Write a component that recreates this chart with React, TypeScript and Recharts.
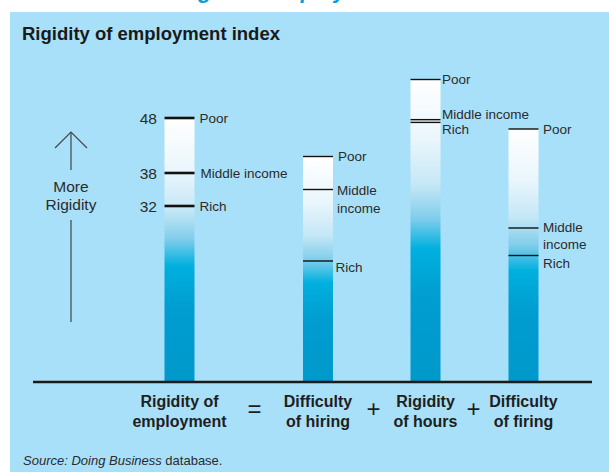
import React from 'react';
import { BarChart, Bar, XAxis, YAxis } from 'recharts';

// ---- data ----
const categories = ['Rigidity of employment', 'Difficulty of hiring', 'Rigidity of hours', 'Difficulty of firing'];
const categoryLines = [
  ['Rigidity of', 'employment'],
  ['Difficulty', 'of hiring'],
  ['Rigidity', 'of hours'],
  ['Difficulty', 'of firing'],
];
const poorValues = [48, 41, 55, 46];
const middleValues = [38, 35, 47.7, 28];
const richValues = [32, 22, 47.2, 23];
const groupNames = ['Poor', 'Middle income', 'Rich'];
const operators = ['', '=', '+', '+'];
const indexTicks = [48, 38, 32];

// ---- layout (not data) ----
const W = 609;
const H = 472;
const PLOT_LEFT = 33;
const PLOT_RIGHT_MARGIN = 17;
const barSlots = [146.5, 285, 392.5, 490.5];
const operatorDx = [0, -63.5, -52, -50];

const LABEL_FONT = "'Liberation Sans', Arial, sans-serif";
const SANS = "'Liberation Sans', Arial, sans-serif";
const TEXT = '#2b2b2b';

type LabelPos = { dx: number; dy: number; wrap?: boolean; lh?: number };
const labelLayout: LabelPos[][] = [
  [{ dx: 5, dy: 5 }, { dx: 6, dy: 5 }, { dx: 5, dy: 5 }],
  [{ dx: 5, dy: 4.5 }, { dx: 4, dy: 5, wrap: true, lh: 18 }, { dx: 2.5, dy: 10.5 }],
  [{ dx: 1.5, dy: 4.5 }, { dx: 1.5, dy: -1 }, { dx: 1.5, dy: 12 }],
  [{ dx: 4.5, dy: 4.5 }, { dx: 4.5, dy: 4, wrap: true, lh: 17 }, { dx: 4.5, dy: 12.5 }],
];

const data = categories.map((name, i) => ({
  name,
  slot: barSlots[i],
  poor: poorValues[i],
  middle: middleValues[i],
  rich: richValues[i],
}));

const BarShape = (props: any) => {
  const { x, y, width, height, index, payload } = props;
  const bottom = y + height;
  const yOf = (v: number) => bottom - (height * v) / payload.poor;
  const vals = [payload.poor, payload.middle, payload.rich];
  const gid = `barGrad${index}`;
  const thick = index === 0 ? 2.6 : 1.4;
  const lay = labelLayout[index];
  return (
    <g>
      <defs>
        <linearGradient id={gid} x1="0" y1="0" x2="0" y2="1">
          <stop offset="0" stopColor="#ffffff" />
          <stop offset="0.2" stopColor="#eaf6fc" />
          <stop offset="0.35" stopColor="#c4e7f6" />
          <stop offset="0.46" stopColor="#7fcdeb" />
          <stop offset="0.56" stopColor="#00b0de" />
          <stop offset="0.72" stopColor="#009dd0" />
          <stop offset="1" stopColor="#0099cc" />
        </linearGradient>
      </defs>
      <rect x={x} y={y} width={width} height={height} fill={`url(#${gid})`} />
      {vals.map((v: number, k: number) => (
        <line key={`l${k}`} x1={x} x2={x + width} y1={yOf(v)} y2={yOf(v)} stroke="#111" strokeWidth={thick} />
      ))}
      {vals.map((v: number, k: number) => {
        const p = lay[k];
        const name = groupNames[k];
        const lines = p.wrap ? name.split(' ') : [name];
        return (
          <text key={`t${k}`} x={x + width + p.dx} y={yOf(v) + p.dy} fontFamily={LABEL_FONT} fontSize={13.5} fill={TEXT}>
            {lines.map((ln, j) => (
              <tspan key={j} x={x + width + p.dx} dy={j === 0 ? 0 : p.lh}>{ln}</tspan>
            ))}
          </text>
        );
      })}
      {index === 0 &&
        indexTicks.map((t, k) => (
          <text key={`n${k}`} x={x - 7.5} y={yOf(t) + 6} textAnchor="end" fontFamily={LABEL_FONT} fontSize={15.5} fill={TEXT}>
            {t}
          </text>
        ))}
    </g>
  );
};

const CategoryTick = (props: any) => {
  const { x, y, payload } = props;
  const i = barSlots.indexOf(payload.value);
  if (i < 0) return null;
  const lines = categoryLines[i];
  return (
    <g>
      {lines.map((ln, j) => (
        <text key={j} x={x} y={y + 25 + j * 20} textAnchor="middle" fontFamily={SANS} fontWeight="bold" fontSize={16} fill="#1e1e1e">
          {ln}
        </text>
      ))}
      {operators[i] && (
        <text x={x + operatorDx[i]} y={y + 35} textAnchor="middle" fontFamily={SANS} fontSize={24} fill="#1e1e1e">
          {operators[i]}
        </text>
      )}
    </g>
  );
};

export default function App() {
  return (
    <div style={{ position: 'absolute', left: 0, top: 0, width: W, height: H, background: '#ffffff', overflow: 'hidden' }}>
      <svg width={W} height={12} style={{ position: 'absolute', left: 0, top: 0 }}>
        <text x={16} y={-2.5} fontFamily={SANS} fontStyle="italic" fontWeight="bold" fontSize={22} fill="#009fdb">
          Poor countries regulate employment the most
        </text>
      </svg>
      <div style={{ position: 'absolute', left: 10, top: 12, width: W - 10, height: H - 12, background: '#a9e0f9' }} />
      <div
        style={{
          position: 'absolute',
          left: 22,
          top: 24,
          fontFamily: SANS,
          fontWeight: 'bold',
          fontSize: 18.5,
          lineHeight: '20px',
          color: '#1a1a1a',
          whiteSpace: 'nowrap',
        }}
      >
        Rigidity of employment index
      </div>
      <svg width={W} height={H} style={{ position: 'absolute', left: 0, top: 0 }}>
        <line x1={71} y1={133} x2={71} y2={170} stroke="#444" strokeWidth={1.2} />
        <polyline points="55,148 71,132 87,148" fill="none" stroke="#444" strokeWidth={1.2} />
        <line x1={71} y1={220} x2={71} y2={322} stroke="#444" strokeWidth={1.2} />
        <text x={71} y={192} textAnchor="middle" fontFamily={SANS} fontSize={15.5} fill={TEXT}>More</text>
        <text x={71} y={210} textAnchor="middle" fontFamily={SANS} fontSize={15.5} fill={TEXT}>Rigidity</text>
        <text x={23} y={465} fontFamily={SANS} fontSize={13} fill={TEXT}>
          <tspan fontStyle="italic">Source: Doing Business</tspan> database.
        </text>
      </svg>
      <div style={{ position: 'absolute', left: 0, top: 0 }}>
        <BarChart
          width={W}
          height={H}
          data={data}
          margin={{ top: 52, right: PLOT_RIGHT_MARGIN, bottom: 30, left: PLOT_LEFT }}
        >
          <XAxis
            type="number"
            dataKey="slot"
            domain={[0, W - PLOT_LEFT - PLOT_RIGHT_MARGIN]}
            ticks={barSlots}
            tick={<CategoryTick />}
            tickLine={false}
            tickSize={0}
            tickMargin={0}
            height={60}
            axisLine={{ stroke: '#1a1a1a', strokeWidth: 2.5 }}
            interval={0}
            allowDataOverflow
          />
          <YAxis hide domain={[0, 60]} />
          <Bar dataKey="poor" barSize={30} shape={<BarShape />} isAnimationActive={false} />
        </BarChart>
      </div>
    </div>
  );
}
